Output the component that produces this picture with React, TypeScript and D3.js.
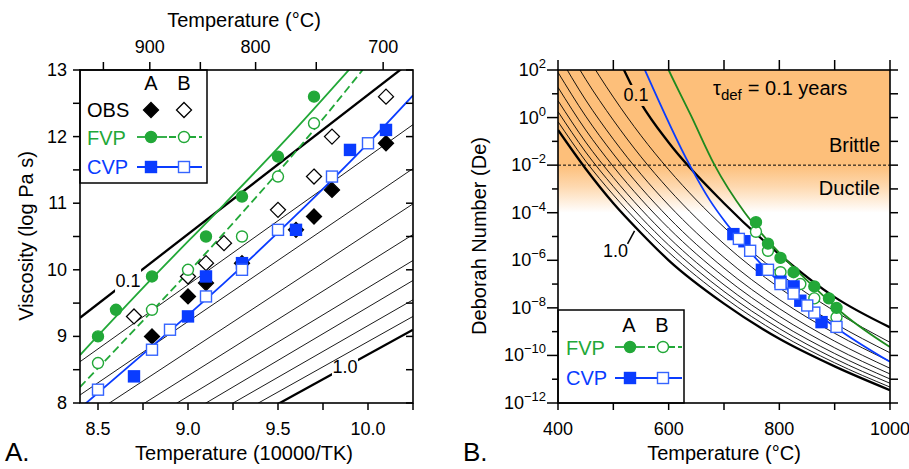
import React from 'react'
import * as d3 from 'd3'

// Panel A: x = 10000/T(K), y = log10 viscosity (Pa s)
const obsA = [[8.8, 9.0], [9.0, 9.6], [9.1, 9.8], [9.3, 10.1], [9.6, 10.6], [9.7, 10.8], [9.8, 11.2], [10.1, 11.9]]
const obsB = [[8.7, 9.3], [9.0, 9.9], [9.1, 10.1], [9.2, 10.4], [9.5, 10.9], [9.7, 11.4], [9.8, 12.0], [10.1, 12.6]]
const fvpA = [[8.5, 9.0], [8.6, 9.4], [8.8, 9.9], [9.1, 10.5], [9.3, 11.1], [9.5, 11.7], [9.7, 12.6]]
const fvpB = [[8.5, 8.6], [8.8, 9.4], [9.0, 10.0], [9.3, 10.5], [9.5, 11.4], [9.7, 12.2]]
const cvpA = [[8.7, 8.4], [9.0, 9.3], [9.1, 9.9], [9.3, 10.1], [9.6, 10.6], [9.9, 11.8], [10.1, 12.1]]
const cvpB = [[8.5, 8.2], [8.8, 8.8], [8.9, 9.1], [9.1, 9.6], [9.3, 10.0], [9.5, 10.6], [9.8, 11.4], [10.0, 11.9]]

// model curves in panel A
const fvpALine = [[8.4, 8.72], [8.8, 9.87], [9.2, 10.98], [9.6, 12.12], [9.9, 13.02]]
const fvpBLine = [[8.4, 8.24], [8.8, 9.38], [9.2, 10.55], [9.6, 11.78], [9.97, 13.0]]
const cvpLine = [[8.4, 7.92], [8.8, 8.85], [9.2, 9.8], [9.6, 10.82], [10.0, 11.9], [10.25, 12.62]]

// reference lines 0.1 ... 1.0 (viscosity at x = 8.4 and x = 10.25)
const refLabels = ['0.1', '0.2', '0.3', '0.4', '0.5', '0.6', '0.7', '0.8', '0.9', '1.0']
const refStart = [9.28, 8.62, 8.12, 7.71, 7.39, 7.12, 6.88, 6.68, 6.50, 6.35]
const refEnd = [13.15, 12.18, 11.52, 10.99, 10.53, 10.14, 9.84, 9.55, 9.30, 9.10]

const bottomTicksA = [8.5, 8.75, 9.0, 9.25, 9.5, 9.75, 10.0, 10.25]
const bottomLabelsA = [8.5, 9.0, 9.5, 10.0]
const yTicksA = [8, 8.5, 9, 9.5, 10, 10.5, 11, 11.5, 12, 12.5, 13]
const yLabelsA = [8, 9, 10, 11, 12, 13]
const topTicksC = [950, 900, 850, 800, 750, 700]
const topLabelsC = [900, 800, 700]

// Panel B: T (°C), log10 Deborah number
const DE_SHIFT = 17 // log De = log viscosity - 17  (tau_def = 0.1 yr)
const deTemps = [400, 450, 500, 550, 600, 700, 800, 900, 1000]
const deCurves = [
  [7.2, 5.0, 2.9, 0.6, -1.05, -3.6, -5.75, -7.55, -8.82],
  [4.79, 2.68, 0.86, -0.76, -2.19, -4.61, -6.56, -8.14, -9.45],
  [3.61, 1.61, -0.11, -1.65, -3.01, -5.31, -7.16, -8.65, -9.89],
  [2.66, 0.74, -0.91, -2.38, -3.68, -5.88, -7.65, -9.07, -10.25],
  [1.9, 0.06, -1.53, -2.95, -4.21, -6.33, -8.03, -9.4, -10.54],
  [1.27, -0.52, -2.06, -3.43, -4.65, -6.7, -8.35, -9.68, -10.78],
  [0.71, -1.03, -2.52, -3.85, -5.04, -7.03, -8.64, -9.92, -10.99],
  [0.25, -1.45, -2.9, -4.2, -5.36, -7.31, -8.87, -10.13, -11.17],
  [-0.17, -1.83, -3.25, -4.52, -5.66, -7.56, -9.09, -10.31, -11.33],
  [-0.52, -2.15, -3.6, -4.85, -6.0, -7.82, -9.3, -10.46, -11.46],
]
const fvpDe = [[590, 2.5], [600, 2.0], [640, 0.1], [683, -2.0], [737, -3.98], [768, -4.88], [814, -6.02], [863, -7.13], [917, -8.28], [1000, -9.65]]
const cvpDe = [[540, 2.9], [557, 2.0], [638, -2.0], [674, -3.46], [702, -4.38], [727, -5.1], [768, -6.18], [814, -7.2], [863, -8.15], [913, -9.0], [1000, -10.27]]
const xTicksB = [400, 500, 600, 700, 800, 900, 1000]
const xLabelsB = [400, 600, 800, 1000]
const decades = d3.range(-12, 3)

const FONT = "'Liberation Sans', Arial, Helvetica, sans-serif"
const GREEN = '#22a838'
const GREEN_DARK = '#1e8a1e'
const BLUE = '#0a3cff'
const BLUE_OPEN = '#3564ff'
const ORANGE = '#fdbf7a'

type Pt = number[]

function Diamond({ cx, cy, filled }: { cx: number; cy: number; filled: boolean }) {
  const h = 7.5
  return (
    <polygon
      points={`${cx},${cy - h} ${cx + h},${cy} ${cx},${cy + h} ${cx - h},${cy}`}
      fill={filled ? '#000' : '#fff'}
      stroke="#000"
      strokeWidth={1.3}
    />
  )
}

function Dot({ cx, cy, filled }: { cx: number; cy: number; filled: boolean }) {
  return <circle cx={cx} cy={cy} r={5.5} fill={filled ? GREEN : '#fff'} stroke={GREEN} strokeWidth={1.4} />
}

function Sq({ cx, cy, filled }: { cx: number; cy: number; filled: boolean }) {
  const h = 5.5
  return (
    <rect x={cx - h} y={cy - h} width={2 * h} height={2 * h}
      fill={filled ? BLUE : '#fff'} stroke={filled ? BLUE : BLUE_OPEN} strokeWidth={1.4} />
  )
}

function Pow({ x, y, e }: { x: number; y: number; e: number }) {
  const s = e < 0 ? `\u2212${-e}` : `${e}`
  return (
    <text x={x} y={y} textAnchor="end" fontSize={18}>
      10<tspan fontSize={13} dy={-8}>{s}</tspan>
    </text>
  )
}

export default function App() {
  const xA = d3.scaleLinear().domain([8.4, 10.25]).range([80, 413])
  const xAtop = d3.scaleLinear().domain([8.0, 10.5]).range([80, 413])
  const yA = d3.scaleLinear().domain([8, 13]).range([403, 70])
  const xB = d3.scaleLinear().domain([400, 1000]).range([558, 890])
  const yB = d3.scaleLog().domain([1e-12, 1e2]).range([403, 70])

  const lineA = d3.line<Pt>().x(d => xA(d[0])).y(d => yA(d[1])).curve(d3.curveMonotoneX)
  const straightA = d3.line<Pt>().x(d => xA(d[0])).y(d => yA(d[1]))
  const lineB = d3.line<Pt>().x(d => xB(d[0])).y(d => yB(Math.pow(10, d[1]))).curve(d3.curveMonotoneX)

  const toB = (d: Pt) => [10000 / d[0] - 273.15, d[1] - DE_SHIFT]
  const refAt = (i: number, x: number) => refStart[i] + (refEnd[i] - refStart[i]) * (x - 8.4) / (10.25 - 8.4)

  // label spots on the thick lines
  const lA01 = { x: xA(8.667), y: yA(refAt(0, 8.667)) }
  const lA10 = { x: xA(9.872), y: yA(refAt(9, 9.872)) }
  const lB01 = { x: xB(541), y: yB(Math.pow(10, 0.95)) }
  const lB10 = { x: xB(504), y: yB(Math.pow(10, -5.6)) }

  const dashY = yB(1e-2)

  return (
    <svg width={909} height={469} style={{ position: 'absolute', left: 0, top: 0, background: '#fff' }}
      fontFamily={FONT}>
      <defs>
        <clipPath id="clipA"><rect x={80} y={70} width={333} height={333} /></clipPath>
        <clipPath id="clipB"><rect x={558} y={70} width={332} height={333} /></clipPath>
        <mask id="mA01" maskUnits="userSpaceOnUse" x={0} y={0} width={909} height={469}>
          <rect x={0} y={0} width={909} height={469} fill="#fff" />
          <rect x={lA01.x - 13} y={lA01.y - 13} width={26} height={26} fill="#000" />
        </mask>
        <mask id="mA10" maskUnits="userSpaceOnUse" x={0} y={0} width={909} height={469}>
          <rect x={0} y={0} width={909} height={469} fill="#fff" />
          <rect x={lA10.x - 13} y={lA10.y - 11} width={26} height={22} fill="#000" />
        </mask>
        <mask id="mB01" maskUnits="userSpaceOnUse" x={0} y={0} width={909} height={469}>
          <rect x={0} y={0} width={909} height={469} fill="#fff" />
          <rect x={lB01.x - 12} y={lB01.y - 10} width={24} height={21} fill="#000" />
        </mask>
        <linearGradient id="fade" x1="0" y1="0" x2="0" y2="1">
          <stop offset="0" stopColor={ORANGE} stopOpacity={1} />
          <stop offset="0.45" stopColor={ORANGE} stopOpacity={0.6} />
          <stop offset="1" stopColor={ORANGE} stopOpacity={0} />
        </linearGradient>
      </defs>

      {/* ---------------- Panel A ---------------- */}
      <g clipPath="url(#clipA)">
        {refLabels.map((lab, i) => {
          const thick = i === 0 || i === refLabels.length - 1
          return (
            <path key={lab} d={straightA([[8.4, refStart[i]], [10.25, refEnd[i]]]) || ''}
              fill="none" stroke="#000" strokeWidth={thick ? 2.3 : 0.9}
              mask={i === 0 ? 'url(#mA01)' : i === 9 ? 'url(#mA10)' : undefined} />
          )
        })}
        <path d={lineA(fvpALine) || ''} fill="none" stroke={GREEN} strokeWidth={1.8} />
        <path d={lineA(fvpBLine) || ''} fill="none" stroke={GREEN} strokeWidth={1.8} strokeDasharray="8,4" />
        <path d={lineA(cvpLine) || ''} fill="none" stroke={BLUE} strokeWidth={1.8} />
      </g>
      <text x={lA01.x} y={lA01.y + 6} textAnchor="middle" fontSize={18}>{refLabels[0]}</text>
      <text x={lA10.x} y={lA10.y + 6} textAnchor="middle" fontSize={18}>{refLabels[9]}</text>

      {obsA.map((d, i) => <Diamond key={'oa' + i} cx={xA(d[0])} cy={yA(d[1])} filled />)}
      {obsB.map((d, i) => <Diamond key={'ob' + i} cx={xA(d[0])} cy={yA(d[1])} filled={false} />)}
      {fvpA.map((d, i) => <Dot key={'fa' + i} cx={xA(d[0])} cy={yA(d[1])} filled />)}
      {fvpB.map((d, i) => <Dot key={'fb' + i} cx={xA(d[0])} cy={yA(d[1])} filled={false} />)}
      {cvpA.map((d, i) => <Sq key={'ca' + i} cx={xA(d[0])} cy={yA(d[1])} filled />)}
      {cvpB.map((d, i) => <Sq key={'cb' + i} cx={xA(d[0])} cy={yA(d[1])} filled={false} />)}

      {/* legend A */}
      <rect x={80} y={70} width={127} height={113} fill="#fff" stroke="#000" strokeWidth={1.5} />
      <text x={151} y={90} textAnchor="middle" fontSize={20}>A</text>
      <text x={184} y={90} textAnchor="middle" fontSize={20}>B</text>
      <text x={87} y={117} fontSize={20}>OBS</text>
      <Diamond cx={151} cy={110} filled />
      <Diamond cx={184} cy={110} filled={false} />
      <text x={87} y={145} fontSize={20} fill={GREEN}>FVP</text>
      <line x1={137} x2={167} y1={137} y2={137} stroke={GREEN} strokeWidth={1.8} />
      <line x1={169} x2={202} y1={137} y2={137} stroke={GREEN} strokeWidth={1.8} strokeDasharray="7,3" />
      <Dot cx={151} cy={137} filled />
      <Dot cx={184} cy={137} filled={false} />
      <text x={87} y={174} fontSize={20} fill={BLUE}>CVP</text>
      <line x1={137} x2={202} y1={167} y2={167} stroke={BLUE} strokeWidth={1.8} />
      <Sq cx={151} cy={167} filled />
      <Sq cx={184} cy={167} filled={false} />

      {/* axes A */}
      <rect x={80} y={70} width={333} height={333} fill="none" stroke="#000" strokeWidth={1.6} />
      {yTicksA.map(v => (
        <g key={'ya' + v}>
          <line x1={73} x2={80} y1={yA(v)} y2={yA(v)} stroke="#000" strokeWidth={1.5} />
          <line x1={406} x2={413} y1={yA(v)} y2={yA(v)} stroke="#000" strokeWidth={1.5} />
        </g>
      ))}
      {yLabelsA.map(v => (
        <text key={'yla' + v} x={67} y={yA(v) + 6} textAnchor="end" fontSize={18}>{v}</text>
      ))}
      {bottomTicksA.map(v => (
        <line key={'xa' + v} x1={xA(v)} x2={xA(v)} y1={403} y2={410} stroke="#000" strokeWidth={1.5} />
      ))}
      {bottomLabelsA.map(v => (
        <text key={'xla' + v} x={xA(v)} y={435} textAnchor="middle" fontSize={18}>{v.toFixed(1)}</text>
      ))}
      {topTicksC.map(c => (
        <line key={'ta' + c} x1={xAtop(10000 / (c + 273.15))} x2={xAtop(10000 / (c + 273.15))}
          y1={70} y2={62} stroke="#000" strokeWidth={1.5} />
      ))}
      {topLabelsC.map(c => (
        <text key={'tla' + c} x={xAtop(10000 / (c + 273.15))} y={53} textAnchor="middle" fontSize={18}>{c}</text>
      ))}
      <text x={244} y={27} textAnchor="middle" fontSize={20}>Temperature (°C)</text>
      <text x={244} y={460} textAnchor="middle" fontSize={20}>Temperature (10000/TK)</text>
      <text transform="translate(33,236) rotate(-90)" textAnchor="middle" fontSize={20}>Viscosity (log Pa s)</text>
      <text x={5} y={461} fontSize={26}>A.</text>

      {/* ---------------- Panel B ---------------- */}
      <g clipPath="url(#clipB)">
        <rect x={558} y={70} width={332} height={dashY - 70} fill={ORANGE} />
        <rect x={558} y={dashY} width={332} height={yB(1e-4) - dashY} fill="url(#fade)" />
        {deCurves.map((c, i) => {
          const thick = i === 0 || i === deCurves.length - 1
          return (
            <path key={'de' + i} d={lineB(deTemps.map((t, j) => [t, c[j]])) || ''}
              fill="none" stroke="#000" strokeWidth={thick ? 2.3 : 0.9}
              mask={i === 0 ? 'url(#mB01)' : undefined} />
          )
        })}
        <line x1={558} x2={890} y1={dashY} y2={dashY} stroke="#000" strokeWidth={1} strokeDasharray="3,2" />
        <path d={lineB(fvpDe) || ''} fill="none" stroke={GREEN_DARK} strokeWidth={1.8} />
        <path d={lineB(cvpDe) || ''} fill="none" stroke={BLUE} strokeWidth={1.8} />
      </g>
      <text x={lB01.x} y={lB01.y + 6} textAnchor="middle" fontSize={18}>0.1</text>
      <text x={lB10.x} y={lB10.y + 6} textAnchor="middle" fontSize={18}>1.0</text>
      <line x1={lB10.x + 12} y1={lB10.y - 7} x2={lB10.x + 19} y2={lB10.y - 20} stroke="#000" strokeWidth={1.5} />

      {fvpB.map(toB).map((d, i) => <Dot key={'bfb' + i} cx={xB(d[0])} cy={yB(Math.pow(10, d[1]))} filled={false} />)}
      {fvpA.map(toB).map((d, i) => <Dot key={'bfa' + i} cx={xB(d[0])} cy={yB(Math.pow(10, d[1]))} filled />)}
      {cvpA.map(toB).map((d, i) => <Sq key={'bca' + i} cx={xB(d[0])} cy={yB(Math.pow(10, d[1]))} filled />)}
      {cvpB.map(toB).map((d, i) => <Sq key={'bcb' + i} cx={xB(d[0])} cy={yB(Math.pow(10, d[1]))} filled={false} />)}

      <text x={713} y={95} fontSize={20}>
        τ<tspan fontSize={15} dy={5}>def</tspan><tspan dy={-5} dx={6}>= 0.1 years</tspan>
      </text>
      <text x={880} y={152} textAnchor="end" fontSize={20}>Brittle</text>
      <text x={880} y={195} textAnchor="end" fontSize={20}>Ductile</text>

      {/* legend B */}
      <rect x={558} y={310} width={126} height={93} fill="#fff" stroke="#000" strokeWidth={1.5} />
      <text x={629} y={332} textAnchor="middle" fontSize={20}>A</text>
      <text x={662} y={332} textAnchor="middle" fontSize={20}>B</text>
      <text x={566} y={355} fontSize={20} fill={GREEN}>FVP</text>
      <line x1={615} x2={645} y1={347} y2={347} stroke={GREEN} strokeWidth={1.8} />
      <line x1={648} x2={682} y1={347} y2={347} stroke={GREEN} strokeWidth={1.8} strokeDasharray="7,3" />
      <Dot cx={630} cy={347} filled />
      <Dot cx={663} cy={347} filled={false} />
      <text x={566} y={385} fontSize={20} fill={BLUE}>CVP</text>
      <line x1={615} x2={682} y1={378} y2={378} stroke={BLUE} strokeWidth={1.8} />
      <Sq cx={630} cy={378} filled />
      <Sq cx={663} cy={378} filled={false} />

      {/* axes B */}
      <rect x={558} y={70} width={332} height={333} fill="none" stroke="#000" strokeWidth={1.6} />
      {decades.map(e => {
        const y = yB(Math.pow(10, e))
        const len = e % 2 === 0 ? 11 : 6
        return (
          <g key={'yb' + e}>
            <line x1={558 - len} x2={558} y1={y} y2={y} stroke="#000" strokeWidth={1.5} />
            <line x1={890} x2={898} y1={y} y2={y} stroke="#000" strokeWidth={1.5} />
            {e % 2 === 0 && <Pow x={546} y={y + 6} e={e} />}
          </g>
        )
      })}
      {xTicksB.map(t => (
        <g key={'xb' + t}>
          <line x1={xB(t)} x2={xB(t)} y1={403} y2={410} stroke="#000" strokeWidth={1.5} />
          <line x1={xB(t)} x2={xB(t)} y1={70} y2={60} stroke="#000" strokeWidth={1.5} />
        </g>
      ))}
      {xLabelsB.map(t => (
        <text key={'xlb' + t} x={xB(t)} y={435} textAnchor="middle" fontSize={18}>{t}</text>
      ))}
      <text x={724} y={460} textAnchor="middle" fontSize={20}>Temperature (°C)</text>
      <text transform="translate(486,236) rotate(-90)" textAnchor="middle" fontSize={20}>Deborah Number (De)</text>
      <text x={463} y={461} fontSize={26}>B.</text>
    </svg>
  )
}
